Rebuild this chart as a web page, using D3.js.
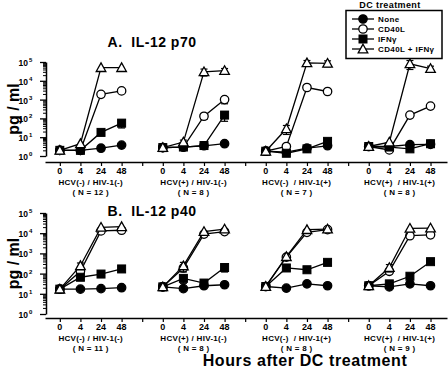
<!DOCTYPE html>
<html><head><meta charset="utf-8">
<script src="https://cdn.jsdelivr.net/npm/d3@7"></script>
<style>
body{margin:0;background:#fff;}
svg text{font-family:"Liberation Sans",Arial,sans-serif;font-weight:bold;fill:#000;}
</style></head>
<body>
<svg id="c" width="448" height="368"></svg>
<script>
const times = ["0","4","24","48"];
const groupLabels = ["HCV(-) / HIV-1(-)", "HCV(+) / HIV-1(-)", "HCV(-)  / HIV-1(+)", "HCV(+)  / HIV-1(+)"];
const nLabelsA = ["( N = 12 )", "( N = 8 )", "( N = 7 )", "( N = 8 )"];
const nLabelsB = ["( N = 11 )", "( N = 8 )", "( N = 8 )", "( N = 9 )"];
const seriesNames = ["None", "CD40L", "IFNγ", "CD40L + IFNγ"];
const seriesSymbols = ["circleFilled", "circleOpen", "squareFilled", "triangleOpen"];
const yTickExps = [0,1,2,3,4,5];

// IL-12 p70 (pg/ml), 4 groups x 4 time points
const p70None  = [2,2,2.6,3.8,   2.8,3,3.5,4.5,     1.8,1.6,2.6,3.5,    3.2,3.2,4,4.2];
const p70CD40L = [2,2,1900,2900, 2.8,3,130,1000,    1.8,3.2,4400,2700,  3.2,2.1,150,450];
const p70IFNg  = [2,2,18,56,     2.8,3,3.6,150,     1.8,1.4,2.4,6,      3.2,3,2.4,4.5];
const p70Both  = [2,4.5,50000,50000, 2.8,5.5,30000,35000, 1.8,28,90000,85000, 3.2,5.5,80000,45000];
const p70ErrNone  = [0,0,0,0, 0,0,0,0, 0,0,0,0, 0,0,0,0];
const p70ErrCD40L = [0,0,0,600, 0,0,40,400, 0,0,0,0, 0,0,0,0];
const p70ErrIFNg  = [0,0,3,25, 0,0,0,80, 0,0,0,1.5, 0,0,0,0];
const p70ErrBoth  = [0,0,0,0, 0,1.5,12000,10000, 0,14,30000,30000, 0,0,40000,15000];

// IL-12 p40 (pg/ml)
const p40None  = [17,17,18,20,   22,18,25,28,     23,19,31,25,     25,22,31,25];
const p40CD40L = [17,130,13000,14000, 22,190,9000,12000, 23,650,11000,15000, 25,130,7500,8300];
const p40IFNg  = [17,66,95,170,  22,58,34,200,    23,190,155,360,  25,31,74,390];
const p40Both  = [17,245,19500,21000, 22,240,12000,16000, 23,690,15000,16000, 25,200,17500,18000];
const p40ErrNone  = [0,0,0,0, 0,0,0,0, 0,0,0,0, 0,0,0,0];
const p40ErrCD40L = [0,0,0,0, 0,0,0,0, 0,0,0,0, 0,0,0,0];
const p40ErrIFNg  = [0,0,0,0, 0,25,0,80, 0,0,0,100, 0,0,0,0];
const p40ErrBoth  = [0,90,0,0, 0,120,0,0, 0,0,0,0, 0,80,0,0];

const svg = d3.select("#c");

const x = d3.scaleLinear().domain([-0.72, 18.8]).range([45, 447]);
const kOf = (g, i) => g * 5 + i;

function symbol(sel, type, cx, cy) {
  if (type.startsWith("circle")) {
    sel.append("circle").attr("cx", cx).attr("cy", cy).attr("r", 4.2)
      .attr("fill", type === "circleFilled" ? "#000" : "#fff").attr("stroke", "#000").attr("stroke-width", 1.3);
  } else if (type === "squareFilled") {
    sel.append("rect").attr("x", cx - 4).attr("y", cy - 4).attr("width", 8).attr("height", 8)
      .attr("fill", "#000").attr("stroke", "#000").attr("stroke-width", 1);
  } else {
    const s = 4.8;
    sel.append("path").attr("d", `M${cx},${cy - s}L${cx + s},${cy + s * 0.8}L${cx - s},${cy + s * 0.8}Z`)
      .attr("fill", "#fff").attr("stroke", "#000").attr("stroke-width", 1.3);
  }
}

function panel(opts) {
  const y = d3.scaleLog().domain([1, 1e5]).range([opts.yBottom, opts.yTop]);
  const g = svg.append("g");

  // title
  g.append("text").attr("x", 152).attr("y", opts.titleY).attr("text-anchor", "middle")
    .attr("font-size", 14).attr("letter-spacing", 0.5).style("white-space", "pre").text(opts.title);

  // y label
  const ymid = (opts.yTop + opts.yBottom) / 2;
  g.append("text").attr("transform", `translate(19,${ymid}) rotate(-90)`).attr("text-anchor", "middle")
    .attr("font-size", 16).text("pg / ml");

  // y axis minor ticks
  const minor = y.ticks().filter(v => !yTickExps.some(e => Math.abs(v - Math.pow(10, e)) < 1e-9));
  g.append("g").attr("transform", "translate(46,0)")
    .call(d3.axisLeft(y).tickValues(minor).tickSize(3).tickSizeOuter(0).tickFormat(""))
    .call(a => a.selectAll("line").attr("stroke-width", 1))
    .call(a => a.select(".domain").attr("stroke-width", 1.5));
  const major = g.append("g").attr("transform", "translate(46,0)")
    .call(d3.axisLeft(y).tickValues(yTickExps.map(e => Math.pow(10, e))).tickSize(6).tickSizeOuter(0).tickFormat(""))
    .call(a => a.select(".domain").remove())
    .call(a => a.selectAll("line").attr("stroke-width", 1.3));
  major.selectAll(".tick").each(function(d) {
    const t = d3.select(this).append("text").attr("x", -18).attr("y", 3.5)
      .attr("text-anchor", "end").attr("font-size", 8.5).attr("fill", "#000").text("10");
    d3.select(this).append("text").attr("x", -17).attr("y", -0.5).attr("text-anchor", "start")
      .attr("font-size", 6).attr("fill", "#000").text(Math.round(Math.log10(d)));
  });

  // x axis
  g.append("g").attr("transform", `translate(0,${opts.xAxisY})`)
    .call(d3.axisBottom(x).tickValues(d3.range(0, 19)).tickSize(4).tickSizeOuter(0).tickFormat(""))
    .call(a => a.select(".domain").attr("stroke-width", 1.5))
    .call(a => a.selectAll("line").attr("stroke-width", 1.2));

  for (let gi = 0; gi < 4; gi++) {
    times.forEach((t, i) => {
      g.append("text").attr("x", x(kOf(gi, i))).attr("y", opts.xAxisY + 12).attr("text-anchor", "middle")
        .attr("font-size", 9).text(t);
    });
    const cx = x(kOf(gi, 1.5));
    g.append("text").attr("x", cx).attr("y", opts.xAxisY + 23).attr("text-anchor", "middle")
      .attr("font-size", 8).attr("letter-spacing", 0.3).style("white-space", "pre").text(groupLabels[gi]);
    g.append("text").attr("x", cx).attr("y", opts.xAxisY + 33).attr("text-anchor", "middle")
      .attr("font-size", 8).attr("letter-spacing", 0.3).style("white-space", "pre").text(opts.nLabels[gi]);
  }

  // series
  const line = d3.line().x(d => d[0]).y(d => d[1]);
  opts.series.forEach((vals, si) => {
    const errs = opts.errors[si];
    for (let gi = 0; gi < 4; gi++) {
      const pts = times.map((t, i) => [x(kOf(gi, i)), y(vals[gi * 4 + i])]);
      g.append("path").attr("d", line(pts)).attr("fill", "none").attr("stroke", "#000").attr("stroke-width", 1.3);
      times.forEach((t, i) => {
        const v = vals[gi * 4 + i], e = errs[gi * 4 + i];
        if (e > 0) {
          const px = x(kOf(gi, i));
          const lo = y(Math.max(v - e, 1)), hi = y(v + e);
          g.append("line").attr("x1", px).attr("x2", px).attr("y1", lo).attr("y2", hi).attr("stroke", "#000").attr("stroke-width", 1.2);
          [lo, hi].forEach(yy => g.append("line").attr("x1", px - 3.5).attr("x2", px + 3.5).attr("y1", yy).attr("y2", yy)
            .attr("stroke", "#000").attr("stroke-width", 1.2));
        }
      });
      pts.forEach(p => symbol(g, seriesSymbols[si], p[0], p[1]));
    }
  });
}

panel({ title: "A.  IL-12 p70", titleY: 47, yTop: 62, yBottom: 156, xAxisY: 162, nLabels: nLabelsA,
  series: [p70None, p70CD40L, p70IFNg, p70Both], errors: [p70ErrNone, p70ErrCD40L, p70ErrIFNg, p70ErrBoth] });
panel({ title: "B.  IL-12 p40", titleY: 216, yTop: 213, yBottom: 314, xAxisY: 318, nLabels: nLabelsB,
  series: [p40None, p40CD40L, p40IFNg, p40Both], errors: [p40ErrNone, p40ErrCD40L, p40ErrIFNg, p40ErrBoth] });

// x axis title
svg.append("text").attr("x", 305).attr("y", 366).attr("text-anchor", "middle").attr("font-size", 16)
  .attr("letter-spacing", 0.6).text("Hours after DC treatment");

// legend
const lg = svg.append("g");
lg.append("text").attr("x", 390).attr("y", 8).attr("text-anchor", "middle").attr("font-size", 9)
  .attr("letter-spacing", 0.4).text("DC treatment");
lg.append("rect").attr("x", 346).attr("y", 10.5).attr("width", 96).attr("height", 48)
  .attr("fill", "#fff").attr("stroke", "#000").attr("stroke-width", 1.5);
seriesNames.forEach((n, i) => {
  const yy = 19 + i * 10;
  lg.append("line").attr("x1", 352).attr("x2", 374).attr("y1", yy).attr("y2", yy).attr("stroke", "#000").attr("stroke-width", 1.3);
  symbol(lg, seriesSymbols[i], 363, yy);
  lg.append("text").attr("x", 378).attr("y", yy + 3).attr("font-size", 8).attr("letter-spacing", 0.4).text(n);
});
</script>
</body></html>
